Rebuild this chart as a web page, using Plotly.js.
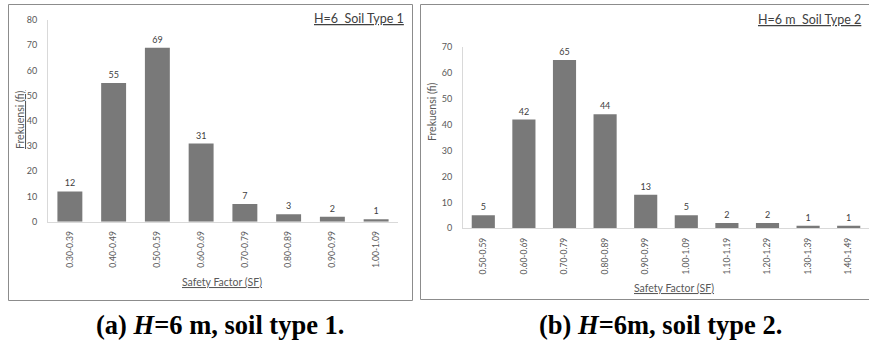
<!DOCTYPE html>
<html>
<head>
<meta charset="utf-8">
<script src="https://cdn.plot.ly/plotly-3.0.1.min.js"></script>
<style>html,body{margin:0;padding:0;background:#fff;}#chart{width:869px;height:344px;}</style>
</head>
<body>
<div id="chart"></div>
<script>
const categories1 = ["0.30-0.39","0.40-0.49","0.50-0.59","0.60-0.69","0.70-0.79","0.80-0.89","0.90-0.99","1.00-1.09"];
const values1 = [12, 55, 69, 31, 7, 3, 2, 1];
const categories2 = ["0.50-0.59","0.60-0.69","0.70-0.79","0.80-0.89","0.90-0.99","1.00-1.09","1.10-1.19","1.20-1.29","1.30-1.39","1.40-1.49"];
const values2 = [5, 42, 65, 44, 13, 5, 2, 2, 1, 1];

const W = 869, H = 344;
const px = v => v / W;
const py = v => 1 - v / H;
const FONT = "Lato, 'Open Sans', sans-serif";
const TXT = '#595959';

const barStyle = {
  color: '#7a7a7a',
  pattern: {shape: '.', size: 2, solidity: 0.5, fgcolor: '#5e5e5e', bgcolor: '#8e8e8e'},
  line: {width: 0}
};

const trace1 = {
  type: 'bar', x: categories1, y: values1, xaxis: 'x', yaxis: 'y',
  text: values1.map(String), textposition: 'outside', cliponaxis: false,
  textfont: {family: FONT, size: 9, color: '#404040'},
  marker: barStyle, hoverinfo: 'none'
};
const trace2 = {
  type: 'bar', x: categories2, y: values2, xaxis: 'x2', yaxis: 'y2',
  text: values2.map(String), textposition: 'outside', cliponaxis: false,
  textfont: {family: FONT, size: 9, color: '#404040'},
  marker: barStyle, hoverinfo: 'none'
};

const xCommon = {
  type: 'category', showgrid: false, zeroline: false, showline: true,
  linecolor: '#d9d9d9', linewidth: 1, ticks: '', tickangle: -90,
  tickfont: {family: FONT, size: 8.5, color: TXT}, ticklabelstandoff: 5, fixedrange: true
};
const yCommon = {
  showgrid: false, zeroline: false, showline: true, linecolor: '#d9d9d9',
  linewidth: 1, ticks: '', tickfont: {family: FONT, size: 9, color: TXT},
  ticklabelstandoff: 8, fixedrange: true
};

const layout = {
  width: W, height: H,
  margin: {l: 0, r: 0, t: 0, b: 0},
  paper_bgcolor: '#ffffff', plot_bgcolor: 'rgba(0,0,0,0)',
  showlegend: false, bargap: 0.43,
  font: {family: FONT, color: TXT},
  xaxis: Object.assign({}, xCommon, {domain: [px(48), px(398)], anchor: 'y'}),
  yaxis: Object.assign({}, yCommon, {domain: [py(221.7), py(20)], range: [0, 80], dtick: 10, anchor: 'x'}),
  xaxis2: Object.assign({}, xCommon, {domain: [px(463), px(869)], anchor: 'y2'}),
  yaxis2: Object.assign({}, yCommon, {domain: [py(228.3), py(47)], range: [0, 70], dtick: 10, anchor: 'x2'}),
  shapes: [
    {type: 'rect', xref: 'paper', yref: 'paper', x0: px(8.5), x1: px(412.5), y0: py(300.5), y1: py(4.5), line: {color: '#8c8c8c', width: 1}},
    {type: 'rect', xref: 'paper', yref: 'paper', x0: px(420.5), x1: px(875), y0: py(299.5), y1: py(4.5), line: {color: '#8c8c8c', width: 1}}
  ],
  annotations: [
    {xref: 'paper', yref: 'paper', x: px(406), y: py(19), xanchor: 'right', yanchor: 'middle', showarrow: false,
     text: '<u>H=6  Soil Type 1</u>', font: {family: FONT, size: 12.5, color: '#404040'}},
    {xref: 'paper', yref: 'paper', x: px(863), y: py(20), xanchor: 'right', yanchor: 'middle', showarrow: false,
     text: '<u>H=6 m  Soil Type 2</u>', font: {family: FONT, size: 12.5, color: '#404040'}},
    {xref: 'paper', yref: 'paper', x: px(20), y: py(120), xanchor: 'center', yanchor: 'middle', showarrow: false, textangle: -90,
     text: '<u>Frekuensi (fi)</u>', font: {family: FONT, size: 10.5, color: TXT}},
    {xref: 'paper', yref: 'paper', x: px(432), y: py(112), xanchor: 'center', yanchor: 'middle', showarrow: false, textangle: -90,
     text: 'Frekuensi (fi)', font: {family: FONT, size: 10.5, color: TXT}},
    {xref: 'paper', yref: 'paper', x: px(222), y: py(282), xanchor: 'center', yanchor: 'middle', showarrow: false,
     text: '<u>Safety Factor (SF)</u>', font: {family: FONT, size: 10.5, color: TXT}},
    {xref: 'paper', yref: 'paper', x: px(674), y: py(288), xanchor: 'center', yanchor: 'middle', showarrow: false,
     text: '<u>Safety Factor (SF)</u>', font: {family: FONT, size: 10.5, color: TXT}},
    {xref: 'paper', yref: 'paper', x: px(220), y: py(325), xanchor: 'center', yanchor: 'middle', showarrow: false,
     text: '<b>(a) <i>H</i>=6 m, soil type 1.</b>', font: {family: "'Liberation Serif', 'DejaVu Serif', serif", size: 26.5, color: '#000000'}},
    {xref: 'paper', yref: 'paper', x: px(660), y: py(325), xanchor: 'center', yanchor: 'middle', showarrow: false,
     text: '<b>(b) <i>H</i>=6m, soil type 2.</b>', font: {family: "'Liberation Serif', 'DejaVu Serif', serif", size: 26.5, color: '#000000'}}
  ]
};

Plotly.newPlot('chart', [trace1, trace2], layout, {staticPlot: true, displayModeBar: false});
</script>
</body>
</html>
